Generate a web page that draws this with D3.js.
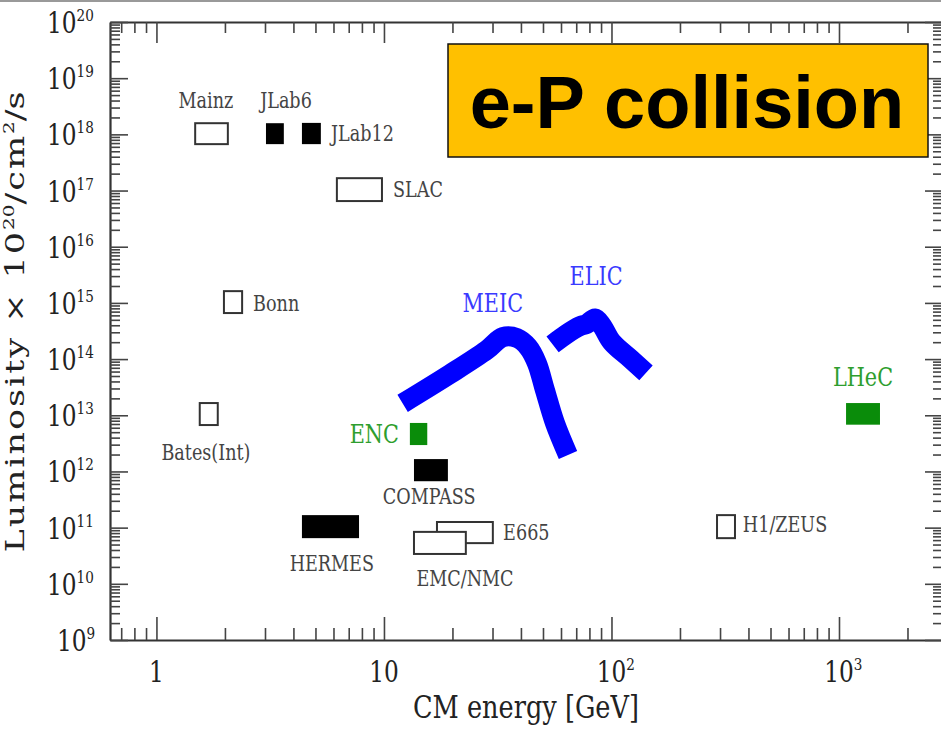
<!DOCTYPE html>
<html>
<head>
<meta charset="utf-8">
<script src="https://cdn.jsdelivr.net/npm/d3@7"></script>
<style>
  body { margin: 0; background: #fff; }
  svg { display: block; }
</style>
</head>
<body>
<div id="chart"></div>
<script>
// experiments drawn as boxes: CM energy range [GeV], luminosity range (x 1e20 /cm2/s)
const boxNames  = ["Mainz", "JLab6", "JLab12", "SLAC", "Bonn", "Bates(Int)", "HERMES", "COMPASS", "E665", "EMC/NMC", "H1/ZEUS", "ENC", "LHeC"];
const boxEnergy = [[1.48, 2.06], [3.03, 3.63], [4.36, 5.28], [6.21, 9.8], [1.98, 2.38], [1.55, 1.86], [4.36, 7.77], [13.55, 19.1], [17.1, 30.1], [13.55, 22.9], [291, 349], [13.0, 15.5], [1074, 1514]];
const boxLumi   = [[6.7e17, 1.58e18], [6.7e17, 1.58e18], [6.7e17, 1.6e18], [6.5e16, 1.66e17], [6.6e14, 1.62e15], [6.7e12, 1.65e13], [6.5e10, 1.67e11], [6.7e11, 1.66e12], [5.3e10, 1.26e11], [3.4e10, 8.4e10], [6.5e10, 1.67e11], [2.95e12, 7.3e12], [6.8e12, 1.65e13]];
const boxStyle  = ["open", "filled", "filled", "open", "open", "open", "filled", "filled", "open", "open", "open", "green", "green"];

// text labels next to the boxes / bands
const labelText   = ["Mainz", "JLab6", "JLab12", "SLAC", "Bonn", "Bates(Int)", "HERMES", "COMPASS", "E665", "EMC/NMC", "H1/ZEUS", "ENC", "LHeC", "MEIC", "ELIC"];
const labelEnergy = [1.65, 3.71, 5.85, 10.96, 2.66, 1.65, 5.9, 15.8, 33.4, 22.7, 378, 11.64, 1275, 30.1, 85.5];
const labelLumi   = [4.07e18, 4.0e18, 1.05e18, 1.05e17, 1.0e15, 2.2e12, 2.34e10, 3.65e11, 8.36e10, 1.27e10, 1.16e11, 4.8e12, 4.8e13, 1.0e15, 3.0e15];
const labelAnchor = ["middle", "middle", "start", "start", "start", "middle", "middle", "middle", "start", "middle", "start", "end", "middle", "middle", "middle"];
const labelKind   = ["k", "k", "k", "k", "k", "k", "k", "k", "k", "k", "k", "g", "g", "b", "b"];

// future machines, thick bands
const meicEnergy = [12.08, 19.5, 28.3, 33.3, 38.4, 43.0, 47.0, 51.0, 56.4, 64.4];
const meicLumi   = [1.63e13, 5.4e13, 1.45e14, 2.46e14, 2.37e14, 1.64e14, 8.5e13, 2.8e13, 7.3e12, 1.96e12];
const elicEnergy = [55.1, 63.5, 72.7, 77.8, 84.6, 90.6, 100.2, 120.6, 141.8];
const elicLumi   = [1.83e14, 2.79e14, 3.86e14, 4.2e14, 5.3e14, 4.0e14, 2.03e14, 1.03e14, 5.7e13];

const titleText = "e-P collision";
const xTitle = "CM energy [GeV]";

const W = 941, H = 733;
const serif = "'DejaVu Serif', 'Liberation Serif', serif";
const SX = 0.8; // glyphs in the picture are narrow

const svg = d3.select("#chart").append("svg")
  .attr("width", W).attr("height", H);

// slide border at the very top
svg.append("line").attr("x1", 0).attr("x2", W).attr("y1", 1).attr("y2", 1)
  .attr("stroke", "#999").attr("stroke-width", 2);

const x = d3.scaleLog().domain([0.625, 2865]).range([110, 943]);
const y = d3.scaleLog().domain([1e9, 1e20]).range([640, 22]);

const isMajor = v => Math.abs(Math.log10(v) - Math.round(Math.log10(v))) < 1e-6;
const xTicks = x.ticks();
const yTicks = y.ticks(20);

// frame axes with inward ticks, longer at the decades
function frameAxis(axisFn, scale, ticks, tr, attr, sign, maj, min) {
  const g = svg.append("g").attr("transform", tr)
    .call(axisFn(scale).tickValues(ticks).tickFormat("").tickSizeOuter(0).tickSize(0));
  g.select(".domain").attr("stroke", "#333").attr("stroke-width", 2.2);
  g.selectAll(".tick line")
    .attr("stroke", "#444").attr("stroke-width", 1.6)
    .attr(attr, d => sign * (isMajor(d) ? maj : min));
  return g;
}
frameAxis(d3.axisBottom, x, xTicks, "translate(0,640)", "y2", -1, 23, 12);
frameAxis(d3.axisTop, x, xTicks, "translate(0,22)", "y2", 1, 21, 11);
frameAxis(d3.axisLeft, y, yTicks, "translate(110,0)", "x2", 1, 18, 10);
frameAxis(d3.axisRight, y, yTicks, "translate(943,0)", "x2", -1, 18, 10);

function squished(g, str, px, py, size, anchor, fill, sx) {
  return g.append("text")
    .attr("transform", `translate(${px},${py}) scale(${sx},1)`)
    .attr("text-anchor", anchor)
    .attr("font-family", serif)
    .attr("font-size", size)
    .attr("fill", fill)
    .text(str);
}

// y tick labels 10^n
const yLab = svg.append("g");
yTicks.filter(isMajor).forEach(v => {
  const e = Math.round(Math.log10(v));
  const t = yLab.append("text")
    .attr("transform", `translate(${e >= 10 ? 47 : 57},${y(v) + 11}) scale(${SX},1)`)
    .attr("font-family", serif).attr("font-size", 29).attr("fill", "#222");
  t.append("tspan").text("10");
  t.append("tspan").attr("dy", -12).attr("font-size", 17).text(e);
});

// x tick labels
const xLab = svg.append("g");
xTicks.filter(isMajor).forEach(v => {
  const e = Math.round(Math.log10(v));
  const base = e === 0 ? "1" : "10";
  const b = squished(xLab, base, x(v), 682, 29, "middle", "#222", SX);
  if (e > 1) {
    const w = b.node().getComputedTextLength() * SX;
    squished(xLab, String(e), x(v) + w / 2, 670, 17, "start", "#222", SX);
  }
});

// axis titles
squished(svg, xTitle, 526, 718, 32, "middle", "#222", SX);
const yt = svg.append("text")
  .attr("transform", "translate(24,322) rotate(-90) scale(1,0.74)")
  .attr("text-anchor", "middle")
  .attr("font-family", serif).attr("font-size", 35).attr("fill", "#222");
yt.append("tspan").attr("letter-spacing", 2).text("Luminosity \u00d7 10");
yt.append("tspan").attr("dy", -14).attr("font-size", 20).text("20");
yt.append("tspan").attr("dy", 14).attr("letter-spacing", 2).text("/cm");
yt.append("tspan").attr("dy", -14).attr("font-size", 20).text("2");
yt.append("tspan").attr("dy", 14).text("/s");

// bands
const band = d3.line().x(d => x(d[0])).y(d => y(d[1])).curve(d3.curveCatmullRom.alpha(0.5));
[[meicEnergy, meicLumi], [elicEnergy, elicLumi]].forEach(([es, ls]) => {
  svg.append("path")
    .datum(es.map((e, i) => [e, ls[i]]))
    .attr("d", band)
    .attr("fill", "none")
    .attr("stroke", "#0000ff")
    .attr("stroke-width", 20)
    .attr("stroke-linejoin", "round")
    .attr("stroke-linecap", "butt");
});

// experiment boxes
const boxes = boxNames.map((n, i) => ({ name: n, e: boxEnergy[i], l: boxLumi[i], style: boxStyle[i] }));
svg.append("g").selectAll("rect")
  .data(boxes)
  .join("rect")
  .attr("x", d => x(d.e[0]))
  .attr("y", d => y(d.l[1]))
  .attr("width", d => x(d.e[1]) - x(d.e[0]))
  .attr("height", d => y(d.l[0]) - y(d.l[1]))
  .attr("fill", d => d.style === "open" ? "#fff" : d.style === "green" ? "#0a8c0a" : "#000")
  .attr("stroke", d => d.style === "open" ? "#333" : "none")
  .attr("stroke-width", 2);

// labels
const labColor = { k: "#444", g: "#2e9e2e", b: "#3a3aff" };
const labSize = { k: 22, g: 26, b: 26 };
const labG = svg.append("g");
labelText.forEach((t, i) => {
  const k = labelKind[i];
  squished(labG, t, x(labelEnergy[i]), y(labelLumi[i]) + labSize[k] * 0.36, labSize[k], labelAnchor[i], labColor[k], SX);
});

// title box
svg.append("rect")
  .attr("x", 448).attr("y", 44).attr("width", 480).attr("height", 113)
  .attr("fill", "#ffc000").attr("stroke", "#111").attr("stroke-width", 1.5);
svg.append("text")
  .attr("x", 687).attr("y", 128)
  .attr("text-anchor", "middle")
  .attr("font-family", "'Liberation Sans', Arial, sans-serif")
  .attr("font-weight", "bold")
  .attr("font-size", 74)
  .attr("fill", "#000")
  .text(titleText);
</script>
</body>
</html>
